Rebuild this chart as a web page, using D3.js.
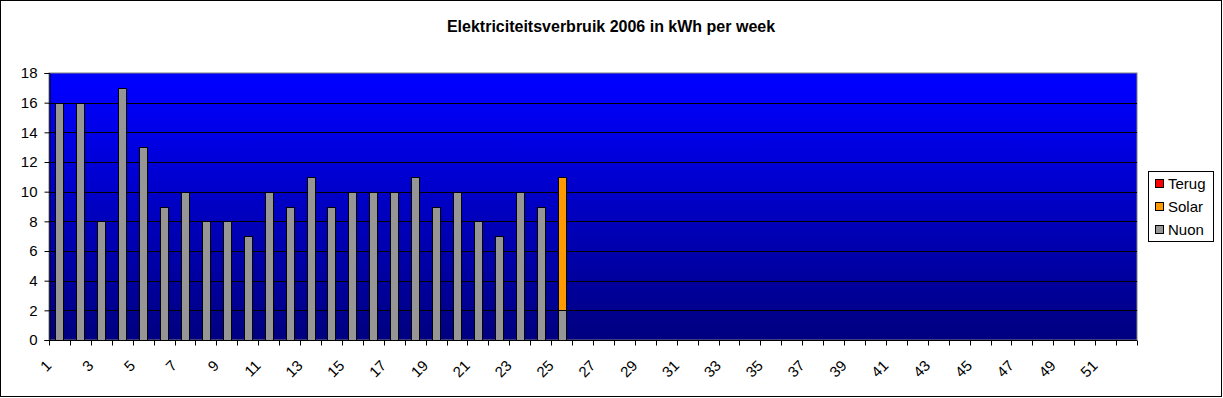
<!DOCTYPE html>
<html>
<head>
<meta charset="utf-8">
<script src="https://cdn.jsdelivr.net/npm/d3@7"></script>
<style>
	body { margin: 0; background: #fff; }
	text { font-family: 'Liberation Sans', Arial, sans-serif; }
</style>
</head>
<body>
<div id="chart"></div>
<script>
// week numbers 1..52
const weeks = d3.range(1, 53);
// kWh per week (only weeks 1..25 have data)
const nuon = [16, 16, 8, 17, 13, 9, 10, 8, 8, 7, 10, 9, 11, 9, 10, 10, 10, 11, 9, 10, 8, 7, 10, 9, 2];
const solar = [0, 0, 0, 0, 0, 0, 0, 0, 0, 0, 0, 0, 0, 0, 0, 0, 0, 0, 0, 0, 0, 0, 0, 0, 9];
const terug = [0, 0, 0, 0, 0, 0, 0, 0, 0, 0, 0, 0, 0, 0, 0, 0, 0, 0, 0, 0, 0, 0, 0, 0, 0];
const yTicks = [0, 2, 4, 6, 8, 10, 12, 14, 16, 18];
const seriesNames = ['Nuon', 'Solar', 'Terug'];
const seriesColors = { Nuon: '#969696', Solar: '#ff9900', Terug: '#ff0000' };
const title = 'Elektriciteitsverbruik 2006 in kWh per week';

const width = 1223, height = 398;
const margin = { top: 73, left: 49, right: 86, bottom: 58 };

const svg = d3.select('#chart').append('svg')
	.attr('width', width)
	.attr('height', height);

// outer frame
svg.append('rect')
	.attr('x', 0.5).attr('y', 0.5)
	.attr('width', width - 2).attr('height', height - 2)
	.attr('fill', '#fff')
	.attr('stroke', '#000');

svg.append('text')
	.attr('x', 611).attr('y', 32)
	.attr('text-anchor', 'middle')
	.attr('font-weight', 'bold')
	.attr('font-size', 16)
	.text(title);

const x = d3.scaleBand()
	.domain(weeks)
	.range([margin.left, width - margin.right])
	.paddingInner(0.62)
	.paddingOuter(0.31);

const y = d3.scaleLinear()
	.domain([0, 18])
	.range([height - margin.bottom, margin.top]);

// plot background gradient
const grad = svg.append('defs').append('linearGradient')
	.attr('id', 'bg').attr('x1', 0).attr('y1', 0).attr('x2', 0).attr('y2', 1);
grad.append('stop').attr('offset', '0%').attr('stop-color', '#0000ff');
grad.append('stop').attr('offset', '8%').attr('stop-color', '#0000fa');
grad.append('stop').attr('offset', '100%').attr('stop-color', '#000080');

svg.append('rect')
	.attr('x', margin.left).attr('y', margin.top)
	.attr('width', width - margin.right - margin.left)
	.attr('height', y(0) - margin.top)
	.attr('fill', 'url(#bg)')
	.attr('stroke', '#808080');

// gridlines
svg.append('g')
	.selectAll('line')
	.data(yTicks.filter(d => d > 0 && d < 18))
	.enter()
	.append('line')
	.attr('x1', margin.left).attr('x2', width - margin.right)
	.attr('y1', d => Math.round(y(d)) + 0.5).attr('y2', d => Math.round(y(d)) + 0.5)
	.attr('stroke', '#000');

// stacked bars
const table = weeks.map((w, i) => ({
	week: w,
	Nuon: nuon[i] || 0,
	Solar: solar[i] || 0,
	Terug: terug[i] || 0
}));
const stacked = d3.stack().keys(seriesNames)(table);

svg.append('g')
	.selectAll('g')
	.data(stacked)
	.enter()
	.append('g')
	.attr('fill', d => seriesColors[d.key])
	.selectAll('rect')
	.data(d => d.filter(p => p[1] > p[0]))
	.enter()
	.append('rect')
	.attr('x', d => Math.round(x(d.data.week)) + 0.5)
	.attr('y', d => Math.round(y(d[1])) + 0.5)
	.attr('width', Math.round(x.bandwidth()))
	.attr('height', d => Math.round(y(d[0])) - Math.round(y(d[1])))
	.attr('stroke', '#000');

// y axis
const yAxis = svg.append('g')
	.attr('transform', `translate(${margin.left + 0.5},0)`)
	.call(d3.axisLeft(y).tickValues(yTicks).tickSize(5).tickPadding(7));
yAxis.select('.domain').attr('stroke', '#000');
yAxis.selectAll('text').attr('font-size', 15).attr('fill', '#000')
	.attr('font-family', "'Liberation Sans', Arial, sans-serif");

// x axis: ticks at category boundaries, labels on odd weeks
const step = x.step();
const xAxis = svg.append('g').attr('transform', `translate(0,${y(0) + 0.5})`);
xAxis.append('line')
	.attr('x1', margin.left).attr('x2', width - margin.right)
	.attr('stroke', '#000');
xAxis.selectAll('line.tick')
	.data(d3.range(0, weeks.length + 1))
	.enter()
	.append('line')
	.attr('class', 'tick')
	.attr('x1', i => Math.round(margin.left + i * step) + 0.5)
	.attr('x2', i => Math.round(margin.left + i * step) + 0.5)
	.attr('y1', 0).attr('y2', 5)
	.attr('stroke', '#000');
xAxis.selectAll('text')
	.data(weeks.filter(w => w % 2 === 1))
	.enter()
	.append('text')
	.attr('transform', w => `translate(${x(w) + x.bandwidth() / 2 - 7},${26}) rotate(-45)`)
	.attr('text-anchor', 'end')
	.attr('font-size', 15)
	.text(w => w);

// legend
const legend = svg.append('g');
legend.append('rect')
	.attr('x', 1148.5).attr('y', 171.5)
	.attr('width', 65).attr('height', 70)
	.attr('fill', '#fff').attr('stroke', '#000');
const legendItems = legend.selectAll('g')
	.data(seriesNames.slice().reverse())
	.enter()
	.append('g')
	.attr('transform', (d, i) => `translate(1155,${179 + i * 23})`);
legendItems.append('rect')
	.attr('x', 0.5).attr('y', 0.5)
	.attr('width', 8).attr('height', 8)
	.attr('fill', d => seriesColors[d]).attr('stroke', '#000');
legendItems.append('text')
	.attr('x', 13).attr('y', 10)
	.attr('font-size', 15)
	.text(d => d);
</script>
</body>
</html>
